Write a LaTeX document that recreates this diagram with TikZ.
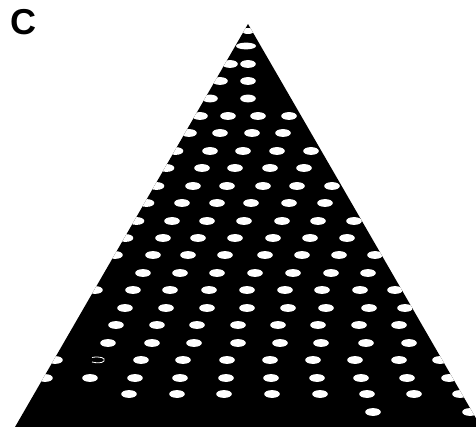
\documentclass[tikz,border=0pt]{standalone}
\usepackage{fontspec}
\newfontfamily\labelfont{Liberation Sans}
\tikzset{
  hole/.style={fill=white},
  plate/.style={fill=black},
  panellabel/.style={font=\labelfont\bfseries\fontsize{36}{36}\selectfont, inner sep=0pt, anchor=base west}
}
\begin{document}
\begin{tikzpicture}[x=1pt,y=-1pt]
\useasboundingbox (0,0) rectangle (476,427);
\fill[white] (0,0) rectangle (476,427);
\begin{scope}
\clip (0,0) rectangle (476,427);
\fill[plate] (248,24) -- (7.5,440) -- (488.5,440) -- cycle;
\begin{scope}
\clip (248,24) -- (7.5,440) -- (488.5,440) -- cycle;
% apex and top
\fill[hole] (248,31) ellipse [x radius=6pt, y radius=3pt];
\fill[hole] (246,46) ellipse [x radius=10pt, y radius=3.4pt];
\foreach \px/\py in {
  230/64, 248/64,
  220/81, 248/81,
  210/98.5, 248/98.5,
  200/116, 228/116, 258/116, 289/116,
  189/133, 220/133, 252/133, 283/133,
  175.5/151, 210/151, 243/151, 277/151, 311/151,
  166.5/168, 202/168, 235/168, 270/168, 304/168,
  156.5/186, 193/186, 227/186, 263/186, 297/186, 332/186,
  146.5/203, 182/203, 217/203, 251/203, 289/203, 325/203,
  136.5/221, 172/221, 207/221, 244/221, 282/221, 318/221, 354/221,
  125.5/238, 163/238, 198/238, 235/238, 273/238, 310/238, 347/238,
  115/255, 153/255, 188/255, 225/255, 265/255, 302/255, 339/255, 375/255,
  143/273, 180/273, 217/273, 255/273, 293/273, 331/273, 368/273,
  95/290, 133/290, 170/290, 209/290, 247/290, 285/290, 322/290, 360/290, 395/290,
  125/308, 166/308, 207/308, 247/308, 288/308, 326/308, 369/308, 405/308,
  116/325, 157/325, 197/325, 238/325, 278/325, 318/325, 359/325, 399/325,
  108/343, 152/343, 194/343, 238/343, 280/343, 321/343, 366/343, 409/343,
  55/360, 141/360, 183/360, 227/360, 270/360, 313/360, 355/360, 399/360, 440/360,
  45/378, 90/378, 135/378, 180/378, 226/378, 271/378, 317/378, 361/378, 407/378, 449/378,
  129/394, 177/394, 224/394, 272/394, 320/394, 367/394, 414/394, 460/394,
  373/412, 470/412,
  170/431, 378/431, 429/431}
  \fill[hole] (\px,\py) ellipse [x radius=7.8pt, y radius=3.9pt];
% small hook mark
\draw[white, line width=0.8pt] (92,357.5) .. controls (100,356) and (106,358) .. (104,361) .. controls (102,363.5) and (96,363) .. (92,362);
\end{scope}
\end{scope}
\node[panellabel] (lab) at (10.5,35) {C};
\end{tikzpicture}
\end{document}
